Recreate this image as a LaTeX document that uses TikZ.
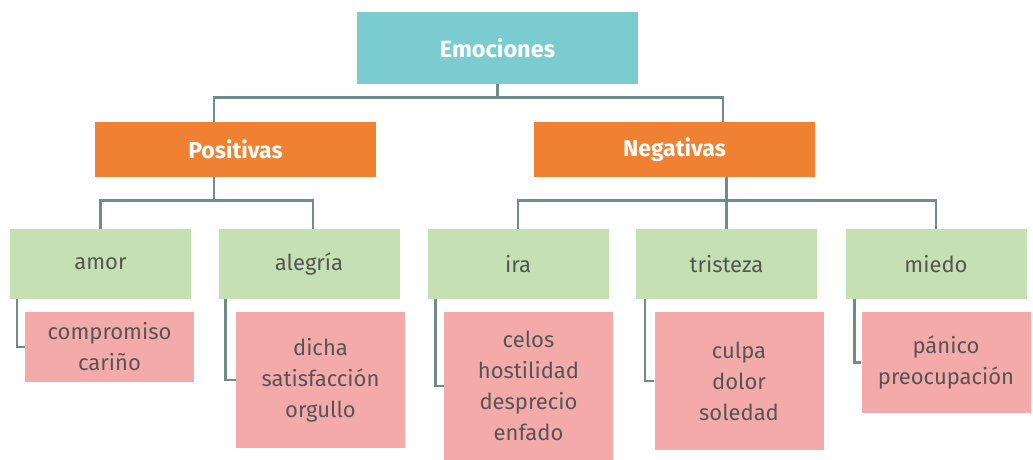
\documentclass[tikz,border=0pt]{standalone}
\usepackage{fontspec}
\setmainfont{Fira Sans}
\definecolor{emoteal}{RGB}{123,204,208}
\definecolor{emoorange}{RGB}{240,128,50}
\definecolor{emogreen}{RGB}{197,224,178}
\definecolor{emopink}{RGB}{245,170,170}
\definecolor{emotext}{RGB}{85,85,85}
\definecolor{emolink}{RGB}{110,140,136}

\begin{document}
\begin{tikzpicture}[x=1pt, y=-1pt,
	rootbox/.style={fill=emoteal, text=white, font=\fontsize{23.5}{27}\selectfont\bfseries, minimum width=281pt, minimum height=72pt, inner sep=0pt},
	groupbox/.style={fill=emoorange, text=white, font=\fontsize{23}{27}\selectfont\bfseries, minimum width=281pt, minimum height=55pt, inner sep=0pt},
	kindbox/.style={fill=emogreen, text=emotext, font=\fontsize{22}{26}\selectfont, minimum width=181pt, minimum height=70pt, inner sep=0pt},
	leafbox/.style={fill=emopink, text=emotext, font=\fontsize{22}{31}\selectfont, align=center, minimum width=169pt, inner sep=0pt},
	link/.style={draw=emolink, line width=2.6pt}]

	\useasboundingbox (0,0) rectangle (1033,460);

	\node[rootbox] (emo) at (497.5,48) {Emociones};
	\node[groupbox] (pos) at (235.5,149.5) {Positivas};
	\node[groupbox] (neg) at (674.5,149.5) {Negativas};

	\node[kindbox] (amor) at (100.5,264) {amor};
	\node[kindbox] (alegria) at (309,264) {alegría};
	\node[kindbox] (ira) at (518,264) {ira};
	\node[kindbox] (tristeza) at (726.5,264) {tristeza};
	\node[kindbox] (miedo) at (936,264) {miedo};

	\node[leafbox, minimum height=70pt] (amorl) at (109.5,347) {compromiso\\cariño};
	\node[leafbox, minimum height=136pt] (alegrial) at (320.5,380) {dicha\\satisfacción\\orgullo};
	\node[leafbox, minimum height=148pt] (iral) at (528.5,386) {celos\\hostilidad\\desprecio\\enfado};
	\node[leafbox, minimum height=138pt] (tristezal) at (739,381) {culpa\\dolor\\soledad};
	\node[leafbox, minimum height=101pt] (miedol) at (946,362.5) {pánico\\preocupación};

	\draw[link] (emo.south) -- ++(0,13) coordinate (busa);
	\draw[link] ([xshift=-21.5pt]pos.north) |- (busa) -| ([xshift=48.5pt]neg.north);

	\draw[link] ([xshift=-21.5pt]pos.south) -- ++(0,23) coordinate (busb);
	\draw[link] (amor.north) |- (busb) -| ([xshift=4pt]alegria.north);
	\draw[link] (neg.south -| tristeza.north) -- (tristeza.north);
	\draw[link] (ira.north) |- (busb -| miedo.north) -- (miedo.north);

	\draw[link] ([xshift=7pt]amor.south west) |- (amorl.west);
	\draw[link] ([xshift=7pt]alegria.south west) |- (alegrial.west);
	\draw[link] ([xshift=8pt]ira.south west) |- (iral.west);
	\draw[link] ([xshift=9pt]tristeza.south west) |- (tristezal.west);
	\draw[link] ([xshift=9pt]miedo.south west) |- (miedol.west);
\end{tikzpicture}
\end{document}
